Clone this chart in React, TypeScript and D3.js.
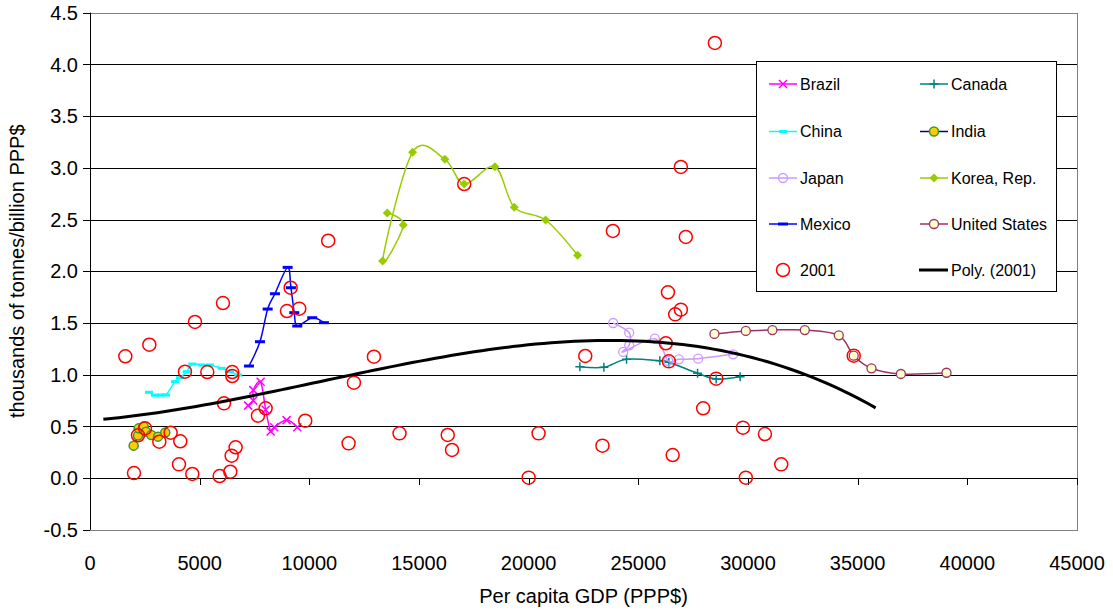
import React from 'react';
import * as d3 from 'd3';

type Pt = [number, number];

const xTicks = [0, 5000, 10000, 15000, 20000, 25000, 30000, 35000, 40000, 45000];
const yTicks = [-0.5, 0, 0.5, 1, 1.5, 2, 2.5, 3, 3.5, 4, 4.5];

const brazil: Pt[] = [[7215, 0.70], [7445, 0.75], [7445, 0.85], [7780, 0.93], [8010, 0.66], [8237, 0.45], [8400, 0.49], [8965, 0.56], [9449, 0.49]];
const canada: Pt[] = [[22334, 1.077], [23430, 1.071], [24462, 1.148], [25980, 1.134], [26390, 1.12], [27700, 1.013], [28550, 0.957], [29640, 0.98]];
const china: Pt[] = [[2689, 0.829], [2963, 0.80], [3222, 0.803], [3464, 0.803], [3874, 0.932], [4100, 0.97], [4407, 1.028], [4663, 1.102], [5091, 1.093], [5470, 1.093], [6003, 1.061], [6381, 1.028], [6760, 0.996]];
const india: Pt[] = [[1990, 0.313], [2188, 0.41], [2218, 0.48], [2447, 0.497], [2552, 0.448], [2795, 0.416], [3100, 0.40], [3432, 0.44]];
const japan: Pt[] = [[23853, 1.499], [24583, 1.405], [24583, 1.283], [24310, 1.219], [25753, 1.347], [26360, 1.132], [26848, 1.148], [27727, 1.154], [29322, 1.196]];
const korea: Pt[] = [[13553, 2.563], [14283, 2.447], [13340, 2.099], [14707, 3.150], [16181, 3.082], [17061, 2.843], [18460, 3.011], [19342, 2.618], [20770, 2.495], [22230, 2.154]];
const mexico: Pt[] = [[7247, 1.083], [7749, 1.318], [8100, 1.634], [8432, 1.782], [9010, 2.037], [9162, 1.840], [9312, 1.599], [9449, 1.470], [10132, 1.550], [10666, 1.502]];
const unitedStates: Pt[] = [[28470, 1.393], [29900, 1.422], [31113, 1.431], [32590, 1.431], [34140, 1.380], [34820, 1.183], [35630, 1.061], [36970, 1.006], [39050, 1.018]];
const obs2001: Pt[] = [
  [2005, 0.048], [1610, 1.177], [2705, 1.289], [4786, 1.509], [6062, 1.692], [9148, 1.84], [8980, 1.615], [9540, 1.638],
  [12945, 1.173], [4330, 1.028], [5347, 1.025], [6487, 1.025], [6487, 0.986], [12033, 0.922], [6108, 0.722], [7657, 0.603],
  [8007, 0.674], [9813, 0.554], [11790, 0.335], [2507, 0.48], [2188, 0.413], [3160, 0.351], [3677, 0.438], [4117, 0.355],
  [4057, 0.132], [4664, 0.039], [5911, 0.019], [6396, 0.061], [6458, 0.216], [6640, 0.297], [14112, 0.432], [16310, 0.416],
  [16505, 0.271], [20452, 0.432], [20000, 0.003], [23364, 0.313], [26565, 0.222], [29770, 0.487], [30772, 0.425], [29900, 0.003],
  [31515, 0.132], [26350, 1.796], [26940, 1.628], [26680, 1.583], [22580, 1.18], [26254, 1.303], [26390, 1.128], [28550, 0.961],
  [27955, 0.674], [34820, 1.183], [28490, 4.207], [26940, 3.008], [27165, 2.331], [23840, 2.389], [17061, 2.843], [10860, 2.295],
];

// cubic least-squares fit (Excel "Poly." trendline, order 3), with 1000 forecast both ways
function cubicFit(pts: Pt[]): number[] {
  const n = 4;
  const A = Array.from({ length: n }, () => new Array(n + 1).fill(0));
  for (const [xv, yv] of pts) {
    const x = xv / 10000;
    for (let i = 0; i < n; i++) {
      for (let j = 0; j < n; j++) A[i][j] += Math.pow(x, i + j);
      A[i][n] += yv * Math.pow(x, i);
    }
  }
  for (let c = 0; c < n; c++) {
    let p = c;
    for (let r = c + 1; r < n; r++) if (Math.abs(A[r][c]) > Math.abs(A[p][c])) p = r;
    [A[c], A[p]] = [A[p], A[c]];
    for (let r = 0; r < n; r++) {
      if (r === c) continue;
      const f = A[r][c] / A[c][c];
      for (let k = c; k <= n; k++) A[r][k] -= f * A[c][k];
    }
  }
  return A.map((row, i) => row[n] / row[i]);
}

const W = 1113, H = 614;
const x = d3.scaleLinear().domain([0, 45000]).range([90, 1077]);
const y = d3.scaleLinear().domain([-0.5, 4.5]).range([529.7, 12.7]);
const crisp = (v: number) => Math.round(v) + 0.5;
const FONT = '"Liberation Sans", Arial, sans-serif';

const smooth = d3.line<Pt>().x(d => x(d[0])).y(d => y(d[1])).curve(d3.curveCardinal.tension(0));

type MarkerKind = 'x' | 'plus' | 'dashS' | 'dashL' | 'circleIndia' | 'circleJapan' | 'diamond' | 'circleUS' | 'circle2001';

function Marker({ kind, cx, cy }: { kind: MarkerKind; cx: number; cy: number }) {
  switch (kind) {
    case 'x':
      return <path d={`M${cx - 4},${cy - 4}L${cx + 4},${cy + 4}M${cx - 4},${cy + 4}L${cx + 4},${cy - 4}`} stroke="#FF00FF" strokeWidth={1.5} />;
    case 'plus':
      return <path d={`M${cx - 4.5},${cy}L${cx + 4.5},${cy}M${cx},${cy - 4.5}L${cx},${cy + 4.5}`} stroke="#008080" strokeWidth={1.5} />;
    case 'dashS':
      return <rect x={cx - 4} y={cy - 1.5} width={8} height={3} fill="#00FFFF" />;
    case 'dashL':
      return <rect x={cx - 5} y={cy - 1.5} width={10} height={3} fill="#0000FF" />;
    case 'circleIndia':
      return <circle cx={cx} cy={cy} r={4.5} fill="#FFCC00" stroke="#339933" strokeWidth={1.5} />;
    case 'circleJapan':
      return <circle cx={cx} cy={cy} r={4.5} fill="none" stroke="#CC99FF" strokeWidth={1.3} />;
    case 'diamond':
      return <path d={`M${cx},${cy - 4.5}L${cx + 4.5},${cy}L${cx},${cy + 4.5}L${cx - 4.5},${cy}Z`} fill="#99CC00" />;
    case 'circleUS':
      return <circle cx={cx} cy={cy} r={4.5} fill="#FFFFCC" stroke="#993366" strokeWidth={1.3} />;
    case 'circle2001':
      return <circle cx={cx} cy={cy} r={6.5} fill="none" stroke="#FF0000" strokeWidth={1.5} />;
  }
  return null;
}

interface SeriesDef { name: string; data: Pt[]; color: string; marker: MarkerKind; }
const series: SeriesDef[] = [
  { name: 'Brazil', data: brazil, color: '#FF00FF', marker: 'x' },
  { name: 'Canada', data: canada, color: '#008080', marker: 'plus' },
  { name: 'China', data: china, color: '#00FFFF', marker: 'dashS' },
  { name: 'India', data: india, color: '#000080', marker: 'circleIndia' },
  { name: 'Japan', data: japan, color: '#CC99FF', marker: 'circleJapan' },
  { name: 'Korea, Rep.', data: korea, color: '#99CC00', marker: 'diamond' },
  { name: 'Mexico', data: mexico, color: '#0000FF', marker: 'dashL' },
  { name: 'United States', data: unitedStates, color: '#993366', marker: 'circleUS' },
];

export default function App() {
  const coef = cubicFit(obs2001);
  const xs = obs2001.map(d => d[0]);
  const x0 = (d3.min(xs) as number) - 1000;
  const x1 = (d3.max(xs) as number) + 1000;
  const trendPts: Pt[] = d3.range(0, 101).map(i => {
    const xv = x0 + (x1 - x0) * i / 100;
    const t = xv / 10000;
    return [xv, coef[0] + coef[1] * t + coef[2] * t * t + coef[3] * t * t * t];
  });
  const trendLine = d3.line<Pt>().x(d => x(d[0])).y(d => y(d[1]));

  const legendRows = [84, 131.5, 178, 224, 270];
  const legendCols = [769, 920];
  const legendItems: { name: string; color?: string; marker?: MarkerKind; poly?: boolean; noLine?: boolean }[] = [
    ...series.map(s => ({ name: s.name, color: s.color, marker: s.marker })),
    { name: '2001', marker: 'circle2001' as MarkerKind, noLine: true },
    { name: 'Poly. (2001)', poly: true },
  ];

  return (
    <svg width={W} height={H} style={{ position: 'absolute', left: 0, top: 0, background: '#fff' }} fontFamily={FONT}>
      <rect x={0} y={0} width={W} height={H} fill="#fff" />
      {/* gridlines */}
      {yTicks.filter(t => t > -0.5 && t < 4.5 && t !== 0).map(t => (
        <line key={t} x1={x(0)} x2={x(45000)} y1={crisp(y(t))} y2={crisp(y(t))} stroke="#000" strokeWidth={1} />
      ))}
      {/* plot border */}
      <rect x={crisp(x(0))} y={crisp(y(4.5))} width={Math.round(x(45000) - x(0))} height={Math.round(y(-0.5) - y(4.5))} fill="none" stroke="#808080" strokeWidth={1} />
      {/* y axis */}
      <line x1={crisp(x(0))} x2={crisp(x(0))} y1={y(4.5)} y2={y(-0.5)} stroke="#000" strokeWidth={1} />
      {yTicks.map(t => (
        <g key={t}>
          <line x1={x(0) - 7} x2={x(0)} y1={crisp(y(t))} y2={crisp(y(t))} stroke="#000" />
          <text x={78} y={y(t)} dy="0.36em" textAnchor="end" fontSize={20} fill="#000">{t.toFixed(1)}</text>
        </g>
      ))}
      {/* x axis at y=0 */}
      <line x1={x(0)} x2={x(45000)} y1={crisp(y(0))} y2={crisp(y(0))} stroke="#000" strokeWidth={1} />
      {xTicks.map(t => (
        <g key={t}>
          <line x1={crisp(x(t))} x2={crisp(x(t))} y1={y(0)} y2={y(0) + 7} stroke="#000" />
          <text x={x(t)} y={570} textAnchor="middle" fontSize={20} fill="#000">{t}</text>
        </g>
      ))}
      <text x={(x(0) + x(45000)) / 2} y={603} textAnchor="middle" fontSize={20} fill="#000">Per capita GDP (PPP$)</text>
      <text transform={`translate(24,${(y(4.5) + y(-0.5)) / 2}) rotate(-90)`} textAnchor="middle" fontSize={20} fill="#000">thousands of tonnes/billion PPP$</text>

      {/* country series */}
      {series.map(s => (
        <g key={s.name}>
          <path d={smooth(s.data) || ''} fill="none" stroke={s.color} strokeWidth={1.5} />
          {s.data.map((d, i) => <Marker key={i} kind={s.marker} cx={x(d[0])} cy={y(d[1])} />)}
        </g>
      ))}
      {/* 2001 */}
      <g>
        {obs2001.map((d, i) => <Marker key={i} kind="circle2001" cx={x(d[0])} cy={y(d[1])} />)}
      </g>
      {/* trendline */}
      <path d={trendLine(trendPts) || ''} fill="none" stroke="#000" strokeWidth={3} />

      {/* legend */}
      <rect x={756.5} y={61.5} width={300} height={230} fill="#fff" stroke="#000" strokeWidth={1} />
      {legendItems.map((it, i) => {
        const cx0 = legendCols[i % 2];
        const cy = legendRows[Math.floor(i / 2)];
        return (
          <g key={it.name}>
            {it.poly ? (
              <line x1={cx0 - 1} x2={cx0 + 28} y1={cy} y2={cy} stroke="#000" strokeWidth={3} />
            ) : !it.noLine ? (
              <line x1={cx0} x2={cx0 + 28} y1={cy} y2={cy} stroke={it.color} strokeWidth={1.5} />
            ) : null}
            {it.marker && <Marker kind={it.marker} cx={cx0 + 14} cy={cy} />}
            <text x={cx0 + 31} y={cy} dy="0.36em" fontSize={16} fill="#000">{it.name}</text>
          </g>
        );
      })}
    </svg>
  );
}
